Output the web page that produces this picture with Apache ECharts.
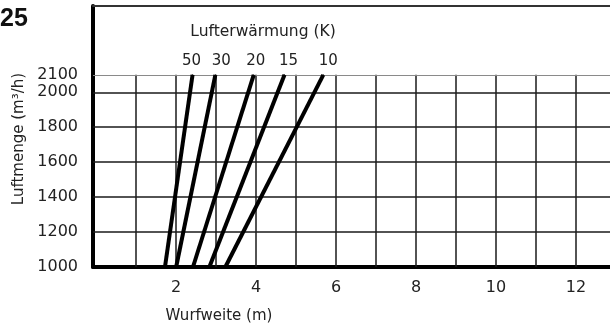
<!DOCTYPE html>
<html>
<head>
<meta charset="utf-8">
<script src="https://cdn.jsdelivr.net/npm/echarts@6/dist/echarts.min.js"></script>
<style>
  html, body { margin: 0; padding: 0; background: #fff; }
  #c { width: 610px; height: 329px; }
</style>
</head>
<body>
<div id="c"></div>
<script>
// Air heating (K) per curve, with throw distance (m) at the low and high airflow
const heatK = [50, 30, 20, 15, 10];
const throwAtLow = [1.72, 2.00, 2.42, 2.83, 3.23];
const throwAtHigh = [2.41, 2.98, 3.94, 4.71, 5.68];
const airflowRange = [1000, 2100];

// Axis labels and chart grid
const yTickLabels = [1000, 1200, 1400, 1600, 1800, 2000, 2100];
const xTickLabels = [2, 4, 6, 8, 10, 12];
const xGridLines = [1, 2, 3, 4, 5, 6, 7, 8, 9, 10, 11, 12];
const yGridLines = [1200, 1400, 1600, 1800, 2000, 2100];

// Horizontal nudge of each curve's heading number
const labelShift = [-1, 6, 2, 4, 5];

const FONT = 'DejaVu Sans';
const INK = '#222';
const X_MIN = -0.08, X_MAX = 12.85, Y_MAX = 2494;

const curveSeries = heatK.map((k, i) => ({
  type: 'line',
  name: String(k),
  symbol: 'circle',
  symbolSize: 1,
  itemStyle: { color: '#000' },
  lineStyle: { color: '#000', width: 4 },
  data: [
    [throwAtLow[i], airflowRange[0]],
    {
      value: [throwAtHigh[i], airflowRange[1]],
      label: {
        show: true, position: 'top', distance: 6,
        offset: [labelShift[i], 0],
        formatter: String(k),
        fontFamily: FONT, fontSize: 15, color: INK
      }
    }
  ],
  z: 5
}));

const gridSeries = {
  type: 'line',
  data: [],
  silent: true,
  markLine: {
    silent: true,
    symbol: ['none', 'none'],
    animation: false,
    label: { show: false },
    lineStyle: { type: 'solid', color: '#1a1a1a', width: 1.5 },
    data: [
      ...xGridLines.map(x => [{ coord: [x, airflowRange[0]] }, { coord: [x, airflowRange[1]] }]),
      ...yGridLines.map(y => ({
        yAxis: y,
        lineStyle: y === airflowRange[1] ? { color: '#8a8a8a', width: 1.2 } : undefined
      }))
    ]
  },
  z: 2
};

const plain = v => String(v);

const chart = echarts.init(document.getElementById('c'), null, { renderer: 'canvas' });
chart.setOption({
  animation: false,
  backgroundColor: '#fff',
  grid: { left: 93, right: 0, top: 6, bottom: 62, containLabel: false },
  xAxis: [{
    type: 'value', min: X_MIN, max: X_MAX,
    axisLine: { show: true, onZero: false, lineStyle: { color: '#000', width: 4 } },
    axisTick: { show: false },
    splitLine: { show: false },
    axisLabel: {
      customValues: xTickLabels, formatter: plain,
      margin: 13, fontFamily: FONT, fontSize: 16, color: INK
    }
  }, {
    type: 'value', min: X_MIN, max: X_MAX, position: 'top',
    axisLine: { show: true, onZero: false, lineStyle: { color: '#333', width: 2 } },
    axisTick: { show: false }, axisLabel: { show: false }, splitLine: { show: false }
  }],
  yAxis: {
    type: 'value', min: airflowRange[0], max: Y_MAX,
    axisLine: { show: true, onZero: false, lineStyle: { color: '#000', width: 4 } },
    axisTick: { show: false },
    splitLine: { show: false },
    axisLabel: {
      customValues: yTickLabels, formatter: plain,
      margin: 15, fontFamily: FONT, fontSize: 16, color: INK
    }
  },
  graphic: [
    { type: 'text', left: 0, top: 7,
      style: { text: '25', font: 'bold 25px "Liberation Sans"', fill: '#111' } },
    { type: 'text', x: 263, y: 32,
      style: { text: 'Lufterwärmung (K)', font: '15.5px "DejaVu Sans"', fill: INK,
               align: 'center', verticalAlign: 'middle' } },
    { type: 'text', x: 219, y: 316,
      style: { text: 'Wurfweite (m)', font: '15px "DejaVu Sans"', fill: INK,
               align: 'center', verticalAlign: 'middle' } },
    { type: 'text', x: 19, y: 139, rotation: Math.PI / 2,
      style: { text: 'Luftmenge (m³/h)', font: '15px "DejaVu Sans"', fill: INK,
               align: 'center', verticalAlign: 'middle' } }
  ],
  series: [gridSeries, ...curveSeries]
});
</script>
</body>
</html>
